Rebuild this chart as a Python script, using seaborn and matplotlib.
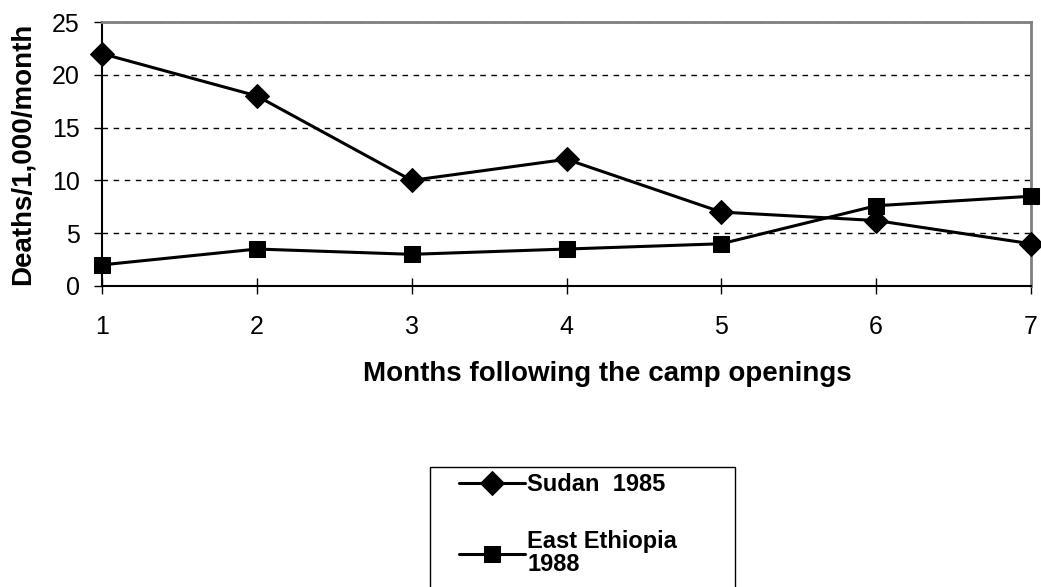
import numpy as np
import pandas as pd
import matplotlib
matplotlib.use('Agg')
import matplotlib.pyplot as plt
import seaborn as sns
from matplotlib.patches import Rectangle

months = [1, 2, 3, 4, 5, 6, 7]
sudan_1985 = [22, 18, 10, 12, 7, 6.2, 4]
east_ethiopia_1988 = [2, 3.5, 3, 3.5, 4, 7.6, 8.5]
series_names = ['Sudan  1985', 'East Ethiopia\n1988']

sns.set_theme(style='white')
plt.rcParams['font.family'] = ['Liberation Sans', 'DejaVu Sans']
plt.rcParams.update({'text.color': 'black', 'axes.labelcolor': 'black',
                     'xtick.color': 'black', 'ytick.color': 'black'})

df = pd.DataFrame({
    'month': months * 2,
    'deaths': sudan_1985 + east_ethiopia_1988,
    'series': [series_names[0]] * len(months) + [series_names[1]] * len(months),
})

fig = plt.figure(figsize=(10.41, 5.87), dpi=100)
ax = fig.add_axes([102 / 1041, 1 - 286 / 587, (1031 - 102) / 1041, (286 - 22) / 587])

markers = {series_names[0]: 'D', series_names[1]: 's'}
sizes = {series_names[0]: 12, series_names[1]: 11}
for name in series_names:
    sub = df[df['series'] == name]
    sns.lineplot(data=sub, x='month', y='deaths', ax=ax, color='black', lw=2.2,
                 marker=markers[name], markersize=sizes[name], markeredgecolor='black',
                 label=name, legend=False, zorder=3, clip_on=False)

ax.set_xlim(1, 7)
ax.set_ylim(0, 25)
ax.set_xticks(months)
ax.set_yticks([0, 5, 10, 15, 20, 25])
ax.yaxis.grid(True, linestyle=(0, (4, 4)), color='black', lw=1)
ax.set_axisbelow(True)
for s in ['top', 'right']:
    ax.spines[s].set_color('#808080')
    ax.spines[s].set_linewidth(2)
for s in ['left', 'bottom']:
    ax.spines[s].set_color('black')
    ax.spines[s].set_linewidth(1.5)
ax.tick_params(axis='y', direction='out', length=6, width=1, labelsize=18, pad=10, left=True)
ax.tick_params(axis='x', direction='inout', length=12, width=1, labelsize=18, pad=15, bottom=True)

ax.set_xlabel('Months following the camp openings', fontsize=20, fontweight='bold')
ax.xaxis.set_label_coords((607 - 102) / 929, -0.285)
ax.set_ylabel('Deaths/1,000/month', fontsize=20, fontweight='bold', labelpad=12)

# legend box (runs off the bottom of the figure like the original)
fig.patches.append(Rectangle((430 / 1041, -0.05), 305 / 1041, 0.05 + 1 - 467 / 587,
                             transform=fig.transFigure, facecolor='white',
                             edgecolor='black', lw=1, zorder=1))
h, l = ax.get_legend_handles_labels()
leg = fig.legend(h, l, loc='upper left', bbox_to_anchor=(459 / 1041, 1 - 473 / 587),
                 frameon=False, prop={'size': 17, 'weight': 'bold'}, handlelength=2.8,
                 handletextpad=0.1, labelspacing=1.45, borderpad=0, borderaxespad=0)
leg.set_zorder(2)
for t in leg.get_texts():
    t.set_linespacing(1.0)

fig.savefig('out.png', dpi=100)
